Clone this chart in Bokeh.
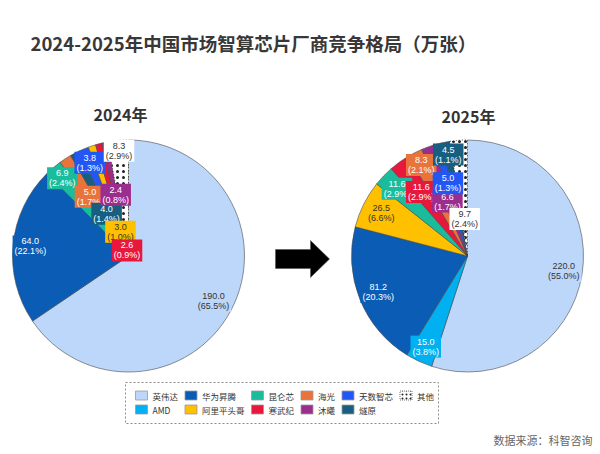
import math
from bokeh.plotting import figure
from bokeh.models import Range1d, ColumnDataSource
from bokeh.embed import file_html
from bokeh.resources import INLINE
from bokeh.core.properties import value

# ---------------- data ----------------
title_text = "2024-2025年中国市场智算芯片厂商竞争格局（万张）"
source_text = "数据来源：科智咨询"
years = ["2024年", "2025年"]
companies = ["英伟达", "AMD", "华为昇腾", "阿里平头哥", "昆仑芯", "寒武纪",
             "海光", "沐曦", "天数智芯", "燧原", "其他"]
vals_2024 = [190.0, 0.0, 64.0, 3.0, 6.9, 2.6, 5.0, 2.4, 3.8, 4.0, 8.3]
vals_2025 = [220.0, 15.0, 81.2, 26.5, 11.6, 11.6, 8.3, 6.6, 5.0, 4.5, 9.7]
order_2024 = ["英伟达", "华为昇腾", "昆仑芯", "海光", "燧原", "天数智芯",
              "阿里平头哥", "寒武纪", "沐曦", "其他"]
order_2025 = list(companies)

# ---------------- styles / layout ----------------
colors = ["#BDD7FA", "#00B0F0", "#0B5CB5", "#FFC000", "#1ABC9C", "#E8173C",
          "#E8743B", "#9B2D8F", "#2257F5", "#175E80", "#FFFFFF"]
text_colors = ["#333333", "#FFFFFF", "#FFFFFF", "#333333", "#FFFFFF", "#FFFFFF",
               "#FFFFFF", "#FFFFFF", "#FFFFFF", "#FFFFFF", "#333333"]
# radial position of each value label (fraction of radius), per pie in slice order
label_r_2024 = [0.83, 0.85, 0.88, 0.61, 0.41, 0.87, 0.22, 0.05, 0.54, 0.91]
label_r_2025 = [0.84, 0.86, 0.83, 0.83, 0.84, 0.68, 0.88, 0.50, 0.65, 0.89, 0.32]

W, H = 600, 454


def PX(px):
    return px


def PY(py):
    return H - py


R = 116
centers = [(PX(128), PY(255.5)), (PX(467), PY(255.5))]
subtitle_pos = [(PX(120), PY(113)), (PX(468), PY(115))]

p = figure(width=W, height=H, x_range=Range1d(0, W), y_range=Range1d(0, H),
           x_axis_type=None, y_axis_type=None, output_backend="svg",
           toolbar_location=None, min_border=0)
p.outline_line_color = None
p.grid.visible = False
p.background_fill_color = "white"

cmap = dict(zip(companies, colors))
tmap = dict(zip(companies, text_colors))
vmaps = [dict(zip(companies, vals_2024)), dict(zip(companies, vals_2025))]
orders = [order_2024, order_2025]
lrs = [label_r_2024, label_r_2025]

for k in range(2):
    cx, cy = centers[k]
    vm = vmaps[k]
    order = [c for c in orders[k] if vm[c] > 0]
    total = sum(vm[c] for c in order)
    cum = 0.0
    wd = dict(x=[], y=[], s=[], e=[], c=[])
    other = None
    lab = dict(x=[], y=[], t=[], tc=[], bg=[])
    for i, c in enumerate(order):
        v = vm[c]
        a0 = cum / total * 2 * math.pi
        a1 = (cum + v) / total * 2 * math.pi
        cum += v
        if c == "其他":
            other = (a0, a1)
        else:
            wd["x"].append(cx); wd["y"].append(cy)
            wd["s"].append(math.pi / 2 - a0); wd["e"].append(math.pi / 2 - a1)
            wd["c"].append(cmap[c])
        mid = (a0 + a1) / 2
        rr = lrs[k][i] * R
        lab["x"].append(cx + rr * math.sin(mid))
        lab["y"].append(cy + rr * math.cos(mid))
        pct = v / total * 100 + 1e-9
        lab["t"].append(f"{v:.1f}\n({pct:.1f}%)")
        lab["tc"].append(tmap[c])
        lab["bg"].append(cmap[c])
    p.wedge(x="x", y="y", radius=R, start_angle="s", end_angle="e",
            direction="clock", fill_color="c", line_color="#4a4a4a",
            line_width=0.6, source=ColumnDataSource(wd))
    if other:
        p.wedge(x=cx, y=cy, radius=R, start_angle=math.pi / 2 - other[0],
                end_angle=math.pi / 2 - other[1], direction="clock",
                fill_color="white", hatch_pattern=".", hatch_color="#222222",
                hatch_scale=6, hatch_weight=1, line_color="#222222",
                line_width=0.8, line_dash="1 2")
    p.text(x="x", y="y", text="t", text_color="tc", background_fill_color="bg",
           text_align="center", text_baseline="middle",
           text_font=value("Liberation Sans"), text_font_size="9px",
           text_line_height=1.0, padding=(2, 1), source=ColumnDataSource(lab))
    sx, sy = subtitle_pos[k]
    p.text(x=[sx], y=[sy], text=[years[k]], text_align="center",
           text_baseline="middle", text_font=value("Noto Sans CJK SC"),
           text_font_size="16px", text_font_style="bold", text_color="#333333")

# title
p.text(x=[PX(30)], y=[PY(42)], text=[title_text], text_align="left",
       text_baseline="middle", text_font=value("Noto Sans CJK SC"),
       text_font_size="18.5px", text_font_style="bold", text_color="#383838")

# arrow
ax, ay = PX(302), PY(258.5)
arrow_x = [ax - 27, ax + 8, ax + 8, ax + 27, ax + 8, ax + 8, ax - 27]
arrow_y = [ay + 9.5, ay + 9.5, ay + 18.5, ay, ay - 18.5, ay - 9.5, ay - 9.5]
p.patch(arrow_x, arrow_y, fill_color="black", line_color="#555555", line_width=0.6)

# legend
lx0, lx1, ly0, ly1 = PX(125), PX(438), PY(382), PY(423)
p.rect(x=[(lx0 + lx1) / 2], y=[(ly0 + ly1) / 2], width=[lx1 - lx0], height=[ly0 - ly1],
       fill_color=None, line_color="#8a8a8a", line_dash="2 2", line_width=1)
rows_y = [PY(395), PY(409)]
col_x = PX(135)
sw = dict(x=[], y=[], c=[])
lt = dict(x=[], y=[], t=[])
ncol = (len(companies) + 1) // 2
for ci in range(ncol):
    names = companies[ci * 2: ci * 2 + 2]
    maxn = max(len(n) if not n.isascii() else len(n) * 0.65 for n in names)
    for ri, n in enumerate(names):
        if n == "其他":
            p.rect(x=[col_x + 6], y=[rows_y[ri]], width=[12], height=[9],
                   fill_color="white", hatch_pattern=".", hatch_color="#222222",
                   hatch_scale=4, line_color="#555555", line_dash="1 1", line_width=0.8)
        else:
            sw["x"].append(col_x + 6); sw["y"].append(rows_y[ri]); sw["c"].append(cmap[n])
        lt["x"].append(col_x + 17); lt["y"].append(rows_y[ri]); lt["t"].append(n)
    col_x += 24 + 8.5 * maxn
p.rect(x="x", y="y", width=12, height=9, fill_color="c", line_color="#9a9a9a",
       line_width=0.8, source=ColumnDataSource(sw))
p.text(x="x", y="y", text="t", text_align="left", text_baseline="middle",
       text_font=value("Noto Sans CJK SC"), text_font_size="8.5px",
       text_color="#333333", source=ColumnDataSource(lt))

# source note
p.text(x=[PX(592)], y=[PY(439)], text=[source_text], text_align="right",
       text_baseline="middle", text_font=value("Noto Sans CJK SC"),
       text_font_size="11px", text_color="#666666")

open("out.html", "w").write(file_html(p, INLINE))
